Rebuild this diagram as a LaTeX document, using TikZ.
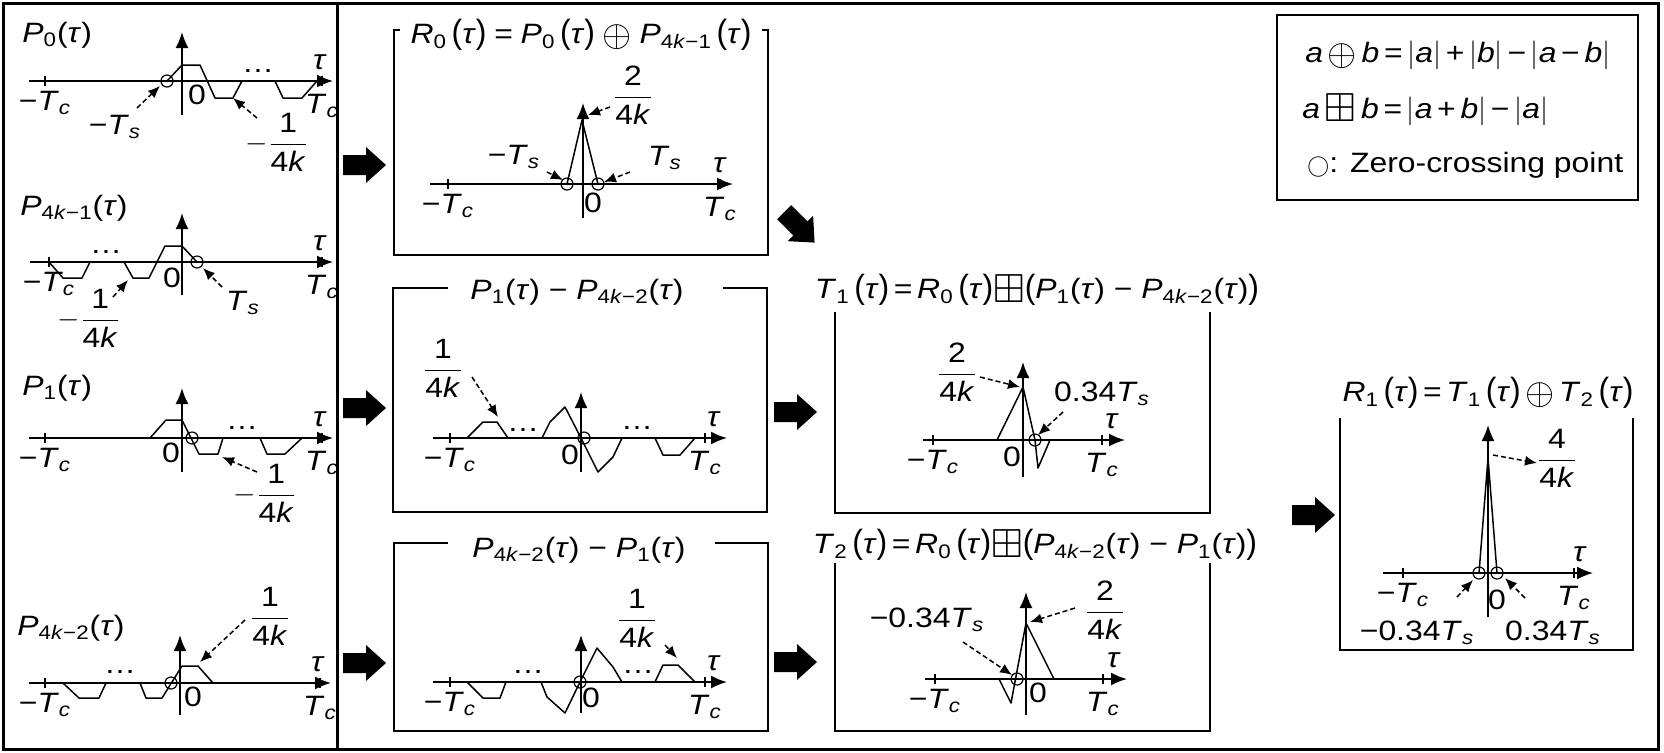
\documentclass[tikz,border=0pt]{standalone}
\usepackage{amsmath,amssymb}
\usepackage{fontspec}
\setmainfont[FakeStretch=1.14]{Liberation Sans}
\usetikzlibrary{arrows.meta}

\newcommand{\tu}{\textit{τ}}
\newcommand{\idx}[1]{\textsubscript{\textit{#1}}}
\newcommand{\fnc}[2]{\textit{#1}\textsubscript{#2}(\tu)}
\newcommand{\fns}[2]{\textit{#1}\textsubscript{#2}\,\scalebox{1}[1.2]{(}\tu\scalebox{1}[1.2]{)}}
\newcommand{\frc}[2]{$\dfrac{\text{#1}}{\text{#2}}$}
\newcommand{\kk}{4\textit{k}}
\newcommand{\bplus}{\raisebox{-0.25ex}{\scalebox{1.45}{$\boxplus$}}}
\newcommand{\bop}{\raisebox{-0.2ex}{\scalebox{1.3}{$\oplus$}}}
% axes of one plot: name, x0, y0, x left, x right, y bottom, y top, -Tc, Tc
\newcommand{\tauaxes}[9]{%
	\draw[axis] (#4,#3) -- (#5,#3);
	\draw[axis] (#2,#6) -- (#2,#7);
	\draw[tick] (#8,#3-5) -- (#8,#3+5);
	\draw[tick] (#9,#3-5) -- (#9,#3+5);
	\node (#1-mtc) at (#8,#3+22) {−\textit{T}\idx{c}};
	\node (#1-tc) at (#9,#3+25) {\textit{T}\idx{c}};
	\node (#1-tau) at (#5-13,#3-19) {\tu};
}

\begin{document}
\begin{tikzpicture}[
	x=0.5pt, y=-0.5pt,
	font=\fontsize{14}{16}\selectfont,
	every node/.style={inner sep=0pt},
	frame/.style={line width=1.5pt},
	box/.style={line width=1pt},
	axis/.style={line width=0.9pt, -{Latex[length=8pt,width=6.5pt]}},
	tick/.style={line width=0.7pt},
	sig/.style={line width=0.75pt, line join=round},
	ann/.style={line width=0.75pt, dash pattern=on 2.5pt off 1.5pt, -{Latex[length=6pt,width=5pt]}},
	zc/.style={line width=0.6pt},
	fatarrow/.pic={\fill (-21,-10) -- (2,-10) -- (2,-18) -- (22,0) -- (2,18) -- (2,10) -- (-21,10) -- cycle;}
	]
	\useasboundingbox (0,0) rectangle (1664,752);
	
	% Frame
	\draw[frame] (3,3) rectangle (1658,749);
	\draw[frame] (337,3) -- (337,749);
	
	% P_0
	\node[anchor=west] (p0-name) at (22,35) {\fnc{P}{0}};
	\tauaxes{p0}{182}{81}{29}{333}{115}{32}{45}{322}
	\draw[sig] (167,81) -- (182,65) -- (200,65) -- (215,98) -- (233,98) -- (242,81);
	\draw[sig] (275,81) -- (283,98) -- (302,98) -- (317,81);
	\node (p0-dots) at (258,71) {…};
	\draw[zc] (167,81) circle[radius=3pt];
	\node (p0-zero) at (197,95) {0};
	\node (p0-ts) at (115,127) {−\textit{T}\idx{s}};
	\draw[ann] (137,108) -- (160,86);
	\node (p0-amp) at (277,142) {$-$\frc{1}{\kk}};
	\draw[ann] (257,118) -- (233,98);
	
	% P_{4k-1}
	\node[anchor=west] (p3-name) at (20,208) {\fnc{P}{4\textit{k}−1}};
	\tauaxes{p3}{182}{262}{30}{333}{295}{213}{49}{322}
	\draw[sig] (49,262) -- (63,278) -- (82,278) -- (90,262);
	\draw[sig] (124,262) -- (133,278) -- (149,278) -- (165,246) -- (182,246) -- (197,262);
	\node (p3-dots) at (106,252) {…};
	\draw[zc] (197,262) circle[radius=3pt];
	\node (p3-zero) at (172,278) {0};
	\node (p3-ts) at (243,303) {\textit{T}\idx{s}};
	\draw[ann] (222,287) -- (203,268);
	\node (p3-amp) at (89,318) {$-$\frc{1}{\kk}};
	\draw[ann] (113,297) -- (128,280);
	
	% P_1
	\node[anchor=west] (p1-name) at (22,388) {\fnc{P}{1}};
	\tauaxes{p1}{182}{438}{29}{333}{472}{388}{45}{322}
	\draw[sig] (150,438) -- (166,420) -- (182,420) -- (199,454) -- (218,454) -- (223,438);
	\draw[sig] (260,438) -- (267,454) -- (285,454) -- (302,438);
	\node (p1-dots) at (242,428) {…};
	\draw[zc] (192,438) circle[radius=3pt];
	\node (p1-zero) at (171,453) {0};
	\node (p1-amp) at (265,493) {$-$\frc{1}{\kk}};
	\draw[ann] (257,472) -- (222,457);
	
	% P_{4k-2}
	\node[anchor=west] (p2-name) at (17,628) {\fnc{P}{4\textit{k}−2}};
	\tauaxes{p2}{180}{683}{29}{331}{715}{635}{45}{320}
	\draw[sig] (63,683) -- (79,698) -- (99,698) -- (106,683);
	\draw[sig] (140,683) -- (146,698) -- (162,698) -- (182,666) -- (198,666) -- (213,683);
	\node (p2-dots) at (120,672) {…};
	\draw[zc] (171,683) circle[radius=3pt];
	\node (p2-zero) at (193,697) {0};
	\node (p2-amp) at (270,616) {\frc{1}{\kk}};
	\draw[ann] (245,620) -- (200,662);
	
	% R_0
	\draw[box] (400,30) -- (394,30) -- (394,255) -- (768,255) -- (768,30) -- (762,30);
	\node (r0-title) at (581,35) {\fns{R}{0}\;=\;\fns{P}{0}\;\bop\;\fns{P}{4\textit{k}−1}};
	\tauaxes{r0}{583}{184}{430}{733}{218}{103}{448}{720}
	\draw[sig] (567,184) -- (582,120) -- (598,184);
	\draw[zc] (567,184) circle[radius=3pt];
	\draw[zc] (598,184) circle[radius=3pt];
	\node (r0-zero) at (593,203) {0};
	\node (r0-amp) at (633,95) {\frc{2}{\kk}};
	\draw[ann] (610,107) -- (588,115);
	\node (r0-mts) at (514,157) {−\textit{T}\idx{s}};
	\draw[ann] (547,172) -- (563,180);
	\node (r0-ts) at (665,158) {\textit{T}\idx{s}};
	\draw[ann] (630,172) -- (604,182);
	
	% P_1 - P_{4k-2}
	\draw[box] (448,288) -- (393,288) -- (393,512) -- (767,512) -- (767,288) -- (723,288);
	\node (d1-title) at (577,292) {\fnc{P}{1} − \fnc{P}{4\textit{k}−2}};
	\tauaxes{d1}{581}{438}{433}{727}{472}{392}{450}{705}
	\draw[sig] (467,438) -- (483,422) -- (497,422) -- (508,438);
	\draw[sig] (542,438) -- (550,422) -- (565,407) -- (581,438) -- (598,472) -- (613,457) -- (622,438);
	\draw[sig] (655,438) -- (663,455) -- (680,455) -- (695,438);
	\node (d1-dots1) at (523,430) {…};
	\node (d1-dots2) at (637,428) {…};
	\draw[zc] (584,438) circle[radius=3pt];
	\node (d1-zero) at (570,455) {0};
	\node (d1-amp) at (443,368) {\frc{1}{\kk}};
	\draw[ann] (472,377) -- (498,417);
	
	% P_{4k-2} - P_1
	\draw[box] (448,543) -- (394,543) -- (394,731) -- (768,731) -- (768,543) -- (715,543);
	\node (d2-title) at (579,550) {\fnc{P}{4\textit{k}−2} − \fnc{P}{1}};
	\tauaxes{d2}{581}{682}{433}{727}{713}{635}{450}{705}
	\draw[sig] (467,682) -- (483,698) -- (500,698) -- (506,682);
	\draw[sig] (541,682) -- (547,697) -- (565,713) -- (580,682) -- (597,648) -- (613,667) -- (622,682);
	\draw[sig] (655,682) -- (663,665) -- (678,665) -- (695,682);
	\node (d2-dots1) at (528,672) {…};
	\node (d2-dots2) at (638,672) {…};
	\draw[zc] (580,682) circle[radius=3pt];
	\node (d2-zero) at (591,698) {0};
	\node (d2-amp) at (637,618) {\frc{1}{\kk}};
	\draw[ann] (665,645) -- (677,658);
	
	% T_1
	\draw[box] (835,312) -- (835,513) -- (1210,513) -- (1210,312);
	\node (t1-title) at (1037,290) {\fns{T}{1}\,=\,\fns{R}{0}\bplus\scalebox{1}[1.2]{(}\fnc{P}{1} − \fnc{P}{4\textit{k}−2}\scalebox{1}[1.2]{)}};
	\tauaxes{t1}{1023}{440}{923}{1125}{477}{362}{933}{1102}
	\draw[sig] (997,440) -- (1023,387) -- (1035,440) -- (1038,468) -- (1050,440);
	\draw[zc] (1035,440) circle[radius=3pt];
	\node (t1-zero) at (1012,457) {0};
	\node (t1-amp) at (957,372) {\frc{2}{\kk}};
	\draw[ann] (980,377) -- (1020,387);
	\node (t1-ts) at (1102,394) {0.34\textit{T}\idx{s}};
	\draw[ann] (1063,412) -- (1038,435);
	
	% T_2
	\draw[box] (835,563) -- (835,731) -- (1210,731) -- (1210,563);
	\node (t2-title) at (1035,545) {\fns{T}{2}\,=\,\fns{R}{0}\bplus\scalebox{1}[1.2]{(}\fnc{P}{4\textit{k}−2} − \fnc{P}{1}\scalebox{1}[1.2]{)}};
	\tauaxes{t2}{1026}{679}{925}{1127}{715}{592}{935}{1103}
	\draw[sig] (999,679) -- (1011,703) -- (1026,623) -- (1054,679);
	\draw[zc] (1017,679) circle[radius=3pt];
	\node (t2-zero) at (1038,693) {0};
	\node (t2-amp) at (1105,610) {\frc{2}{\kk}};
	\draw[ann] (1075,608) -- (1030,622);
	\node (t2-ts) at (927,620) {−0.34\textit{T}\idx{s}};
	\draw[ann] (963,642) -- (1012,675);
	
	% R_1
	\draw[box] (1340,418) -- (1340,650) -- (1633,650) -- (1633,418);
	\node (r1-title) at (1488,393) {\fns{R}{1}\,=\,\fns{T}{1}\,\bop\,\fns{T}{2}};
	\tauaxes{r1}{1488}{573}{1383}{1593}{617}{425}{1403}{1574}
	\draw[sig] (1479,573) -- (1488,458) -- (1497,573);
	\draw[zc] (1479,573) circle[radius=3pt];
	\draw[zc] (1497,573) circle[radius=3pt];
	\node (r1-zero) at (1497,600) {0};
	\node (r1-amp) at (1557,458) {\frc{4}{\kk}};
	\draw[ann] (1493,455) -- (1537,463);
	\node (r1-mts) at (1417,633) {−0.34\textit{T}\idx{s}};
	\draw[ann] (1457,597) -- (1473,580);
	\node (r1-ts) at (1553,633) {0.34\textit{T}\idx{s}};
	\draw[ann] (1525,598) -- (1505,578);
	
	% Flow arrows
	\pic at (364,165) {fatarrow};
	\pic at (364,408) {fatarrow};
	\pic at (364,663) {fatarrow};
	\pic[rotate=-45] at (799,227) {fatarrow};
	\pic at (795,412) {fatarrow};
	\pic at (795,662) {fatarrow};
	\pic at (1313,515) {fatarrow};
	
	% Legend
	\draw[box] (1277,15) rectangle (1638,200);
	\node[anchor=west] (leg1) at (1305,55) {\textit{a}\,\bop\,\textit{b}\,=\,$|$\textit{a}$|$\,+\,$|$\textit{b}$|$\,−\,$|$\textit{a}\,−\,\textit{b}$|$};
	\node[anchor=west] (leg2) at (1302,110) {\textit{a}\,\bplus\,\textit{b}\,=\,$|$\textit{a}\,+\,\textit{b}$|$\,−\,$|$\textit{a}$|$};
	\node[anchor=west] (leg3) at (1307,165) {{\fontsize{11}{11}\selectfont$\bigcirc$}: Zero-crossing point};
	
\end{tikzpicture}
\end{document}
